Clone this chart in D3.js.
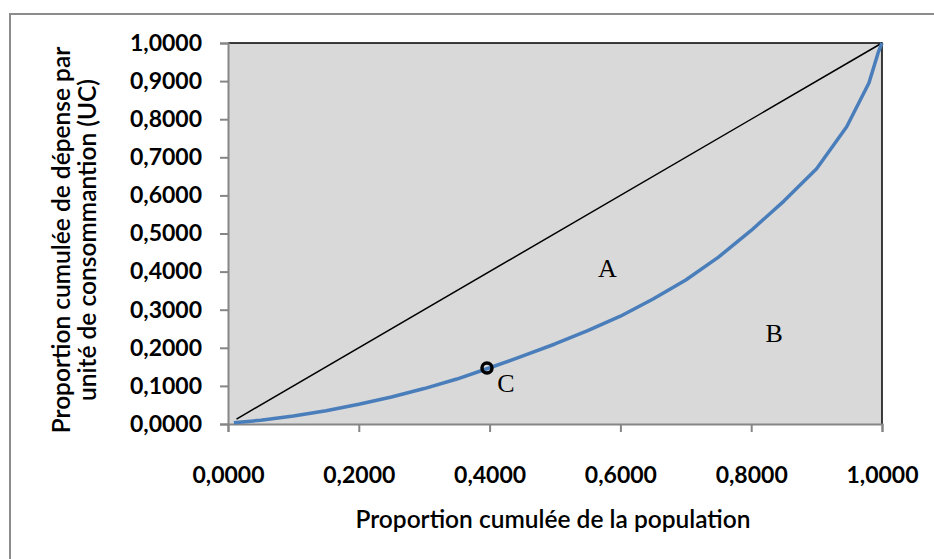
<!DOCTYPE html>
<html>
<head>
<meta charset="utf-8">
<script src="https://cdn.jsdelivr.net/npm/d3@7"></script>
<style>
  body { margin: 0; background: #fff; }
  svg { display: block; }
</style>
</head>
<body>
<svg id="chart" width="934" height="559"></svg>
<script>
// cumulative share of population vs cumulative share of spending (UC)
const popShare = [0.009, 0.05, 0.1, 0.15, 0.2, 0.25, 0.3, 0.35, 0.396, 0.45, 0.5, 0.55, 0.6, 0.65, 0.7, 0.75, 0.8, 0.85, 0.9, 0.946, 0.98, 0.994, 1.0];
const spendShare = [0.003, 0.010, 0.021, 0.035, 0.052, 0.071, 0.093, 0.118, 0.145, 0.178, 0.210, 0.245, 0.283, 0.328, 0.378, 0.438, 0.508, 0.585, 0.670, 0.780, 0.895, 0.974, 1.0];
const equality = [[0.013, 0.013], [1, 1]];
const pointC = [0.396, 0.147];
const xTicks = [0, 0.2, 0.4, 0.6, 0.8, 1.0];
const yTicks = [0, 0.1, 0.2, 0.3, 0.4, 0.5, 0.6, 0.7, 0.8, 0.9, 1.0];
const areaLabels = [
  {text: "A", x: 0.58, y: 0.385},
  {text: "B", x: 0.835, y: 0.215},
  {text: "C", x: 0.425, y: 0.085}
];

const fmt = v => d3.format(".4f")(v).replace(".", ",");
const svg = d3.select("#chart");
const plotL = 228, plotR = 882, plotT = 43, plotB = 424;

const x = d3.scaleLinear().domain([0, 1]).range([plotL, plotR]);
const y = d3.scaleLinear().domain([0, 1]).range([plotB, plotT]);

// outer frame (runs off the right and bottom of the image)
svg.append("path")
  .attr("d", "M10,570 L10,14 L940,14")
  .attr("fill", "none")
  .attr("stroke", "#8c8c8c")
  .attr("stroke-width", 2);

// plot area
svg.append("rect")
  .attr("x", plotL).attr("y", plotT)
  .attr("width", plotR - plotL).attr("height", plotB - plotT)
  .attr("fill", "#d9d9d9");
svg.append("path")
  .attr("d", `M${plotL},${plotT} L${plotR},${plotT} L${plotR},${plotB}`)
  .attr("fill", "none")
  .attr("stroke", "#000")
  .attr("stroke-width", 1.5);

const xAxis = svg.append("g")
  .attr("transform", `translate(0,${plotB})`)
  .call(d3.axisBottom(x).tickValues(xTicks).tickFormat(fmt).tickSize(8).tickPadding(35));
const yAxis = svg.append("g")
  .attr("transform", `translate(${plotL},0)`)
  .call(d3.axisLeft(y).tickValues(yTicks).tickFormat(fmt).tickSize(8).tickPadding(18));

[xAxis, yAxis].forEach(a => {
  a.select(".domain").attr("stroke", "#868686").attr("stroke-width", 2);
  a.selectAll(".tick line").attr("stroke", "#868686").attr("stroke-width", 2);
  a.selectAll(".tick text")
    .attr("fill", "#000")
    .style("font-family", "Lato, sans-serif")
    .style("font-weight", "700")
    .style("font-size", "23px");
});

// line of equality
svg.append("line")
  .attr("x1", x(equality[0][0])).attr("y1", y(equality[0][1]))
  .attr("x2", x(equality[1][0])).attr("y2", y(equality[1][1]))
  .attr("stroke", "#000")
  .attr("stroke-width", 1.5);

// concentration curve
const line = d3.line().x((d, i) => x(popShare[i])).y(d => y(d));
svg.append("path")
  .datum(spendShare)
  .attr("d", line)
  .attr("fill", "none")
  .attr("stroke", "#4a7ebb")
  .attr("stroke-width", 3.5)
  .attr("stroke-linejoin", "round");

svg.append("circle")
  .attr("cx", x(pointC[0])).attr("cy", y(pointC[1]))
  .attr("r", 5)
  .attr("fill", "none")
  .attr("stroke", "#000")
  .attr("stroke-width", 3.5);

svg.selectAll(".area-label")
  .data(areaLabels)
  .enter().append("text")
  .attr("class", "area-label")
  .attr("x", d => x(d.x)).attr("y", d => y(d.y))
  .attr("text-anchor", "middle")
  .style("font-family", "'Liberation Serif', serif")
  .style("font-size", "26px")
  .text(d => d.text);

// axis titles
svg.append("text")
  .attr("x", 553).attr("y", 528)
  .attr("text-anchor", "middle")
  .style("font-family", "Lato, sans-serif")
  .style("font-weight", "600")
  .style("font-size", "24.5px")
  .text("Proportion cumulée de la population");

const yTitle = svg.append("text")
  .attr("transform", "translate(0,240) rotate(-90)")
  .attr("text-anchor", "middle")
  .style("font-family", "Lato, sans-serif")
  .style("font-weight", "600")
  .style("font-size", "24.5px");
yTitle.append("tspan").attr("x", 0).attr("y", 70).text("Proportion cumulée de dépense par");
yTitle.append("tspan").attr("x", 0).attr("y", 96).text("unité de consommantion (UC)");
</script>
</body>
</html>
